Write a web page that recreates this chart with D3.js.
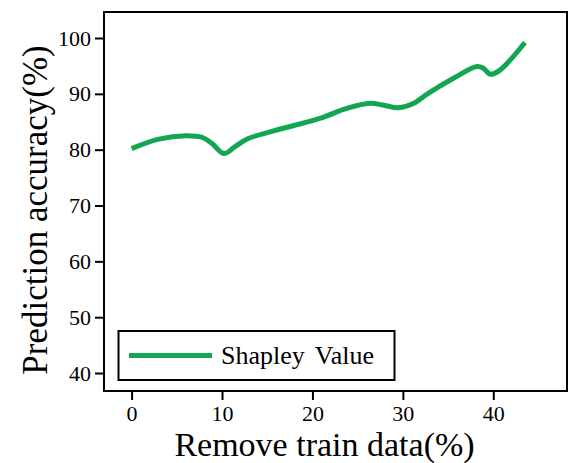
<!DOCTYPE html>
<html>
<head>
<meta charset="utf-8">
<script src="https://cdn.jsdelivr.net/npm/d3@7"></script>
<style>
  html, body { margin: 0; padding: 0; background: #fff; }
  svg { display: block; }
  text { font-family: "Liberation Serif", "Times New Roman", serif; fill: #000; }
</style>
</head>
<body>
<svg id="chart" width="573" height="463"></svg>
<script>
// Share of training data removed (%) and the resulting accuracy (%)
const removedPct = [0, 3, 6, 7.8, 8.9, 10.2, 11.4, 12.9, 15.8, 20.8, 23.8, 26.4, 27.8, 29.5, 31.2, 32.8, 35.6, 38.2, 38.9, 39.7, 40.7, 43.5];
const shapleyAcc = [80.2, 81.9, 82.5, 82.2, 81.1, 79.3, 80.5, 82.0, 83.4, 85.6, 87.4, 88.3, 88.0, 87.5, 88.3, 90.1, 92.8, 94.9, 94.6, 93.5, 94.2, 99.2];
const xTicks = [0, 10, 20, 30, 40];
const yTicks = [40, 50, 60, 70, 80, 90, 100];
const seriesName = "Shapley Value";
const xTitle = "Remove train data(%)";
const yTitle = "Prediction accuracy(%)";

const svg = d3.select("#chart");
const plot = { left: 104, top: 12, right: 567, bottom: 391 };
const green = "#12a651";

const x = d3.scaleLinear().domain([-3.05, 48.15]).range([plot.left, plot.right]);
const y = d3.scaleLinear().domain([36.78, 104.66]).range([plot.bottom, plot.top]);

// Axes with outward ticks
const xAxis = svg.append("g")
  .attr("transform", `translate(0,${plot.bottom})`)
  .call(d3.axisBottom(x).tickValues(xTicks).tickSize(9).tickPadding(5).tickSizeOuter(0));
const yAxis = svg.append("g")
  .attr("transform", `translate(${plot.left},0)`)
  .call(d3.axisLeft(y).tickValues(yTicks).tickSize(9).tickPadding(4).tickSizeOuter(0));

[xAxis, yAxis].forEach(g => {
  g.select(".domain").remove();
  g.selectAll(".tick line").attr("stroke", "#000").attr("stroke-width", 2);
  g.selectAll(".tick text")
    .style("font-family", "'Liberation Serif', 'Times New Roman', serif")
    .style("font-size", "22px")
    .attr("fill", "#000");
});

// Plot frame
svg.append("rect")
  .attr("x", plot.left).attr("y", plot.top)
  .attr("width", plot.right - plot.left).attr("height", plot.bottom - plot.top)
  .attr("fill", "none").attr("stroke", "#000").attr("stroke-width", 2);

// Accuracy curve
const line = d3.line()
  .x((d, i) => x(removedPct[i]))
  .y(d => y(d))
  .curve(d3.curveCatmullRom.alpha(0.5));
svg.append("path")
  .datum(shapleyAcc)
  .attr("d", line)
  .attr("fill", "none")
  .attr("stroke", green)
  .attr("stroke-width", 5);

// Legend
const lg = svg.append("g");
lg.append("rect")
  .attr("x", 118.5).attr("y", 331).attr("width", 276).attr("height", 49)
  .attr("fill", "#fff").attr("stroke", "#000").attr("stroke-width", 2);
lg.append("line")
  .attr("x1", 129).attr("x2", 212).attr("y1", 355.5).attr("y2", 355.5)
  .attr("stroke", green).attr("stroke-width", 5);
lg.append("text")
  .attr("x", 221).attr("y", 364)
  .style("font-size", "26px")
  .style("word-spacing", "4px")
  .text(seriesName);

// Axis titles
svg.append("text")
  .attr("x", 324.5).attr("y", 455.5)
  .attr("text-anchor", "middle")
  .style("font-size", "34px")
  .text(xTitle);
svg.append("text")
  .attr("transform", "translate(47,210) rotate(-90)")
  .attr("text-anchor", "middle")
  .style("font-size", "35px")
  .text(yTitle);
</script>
</body>
</html>
